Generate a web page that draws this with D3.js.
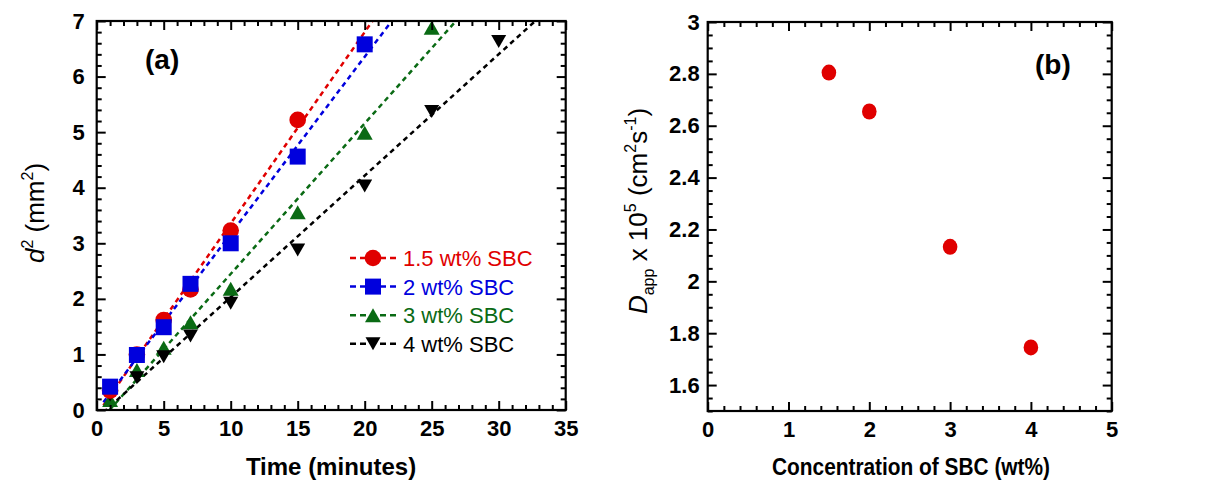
<!DOCTYPE html>
<html>
<head>
<meta charset="utf-8">
<script src="https://cdn.jsdelivr.net/npm/d3@7"></script>
<style>
    body { margin: 0; background: #fff; }
    svg text { font-family: Arial, "Liberation Sans", sans-serif; fill: #000; }
    .tick line { stroke: #000; stroke-width: 2; }
</style>
</head>
<body>
<div id="chart"></div>
<script>
/* DATA panel (a): d^2 vs time */
const timeMinutes = [1, 3, 5, 7, 10, 15, 20, 25, 30]
const sbc15 = [0.35, 1.00, 1.62, 2.17, 3.23, 5.22]
const sbc2 = [0.42, 0.99, 1.49, 2.27, 3.00, 4.56, 6.58]
const sbc3 = [0.18, 0.72, 1.12, 1.58, 2.18, 3.56, 4.99, 6.88]
const sbc4 = [0.27, 0.58, 0.96, 1.33, 1.92, 2.88, 4.03, 5.37, 6.63]
const seriesNames = ["1.5 wt% SBC", "2 wt% SBC", "3 wt% SBC", "4 wt% SBC"]

/* DATA panel (b): D_app vs concentration */
const concentration = [1.5, 2, 3, 4]
const dApp = [2.805, 2.655, 2.133, 1.745]

/* TICKS */
const xTicksA = [0, 5, 10, 15, 20, 25, 30, 35]
const yTicksA = [0, 1, 2, 3, 4, 5, 6, 7]
const xTicksB = [0, 1, 2, 3, 4, 5]
const yTicksB = [1.6, 1.8, 2, 2.2, 2.4, 2.6, 2.8, 3]

const series = [
    { name: seriesNames[0], values: sbc15, color: "#e00000", marker: "circle" },
    { name: seriesNames[1], values: sbc2, color: "#0000dd", marker: "square" },
    { name: seriesNames[2], values: sbc3, color: "#0a6a14", marker: "up" },
    { name: seriesNames[3], values: sbc4, color: "#000000", marker: "down" },
]
// overlap order seen in the picture: green, black, red, blue on top
const drawOrder = [2, 3, 0, 1]

const svg = d3.select("#chart")
    .append("svg")
    .attr("width", 1208)
    .attr("height", 484)

function addMarker(g, type, color) {
    if (type == "circle") {
        g.append("circle").attr("r", 8.3).attr("fill", color)
    } else if (type == "square") {
        g.append("rect").attr("x", -8).attr("y", -8).attr("width", 16).attr("height", 16).attr("fill", color)
    } else if (type == "up") {
        g.append("path").attr("d", "M0,-7L8,7L-8,7Z").attr("fill", color)
    } else {
        g.append("path").attr("d", "M0,6.5L7.5,-6.5L-7.5,-6.5Z").attr("fill", color)
    }
}

function linearFit(xs, ys) {
    const mx = d3.mean(xs), my = d3.mean(ys)
    const sxy = d3.sum(xs, (v, i) => (v - mx) * (ys[i] - my))
    const sxx = d3.sum(xs, v => (v - mx) * (v - mx))
    const slope = sxy / sxx
    return { slope, intercept: my - slope * mx }
}

function drawFrame(g, x, y, w, h, opts) {
    const fontStyle = sel => sel.selectAll("text")
        .attr("font-family", null)
        .style("font-size", "22px")
        .style("font-weight", "bold")
    const clean = sel => sel.attr("font-size", null).attr("font-family", null).select(".domain").remove()

    /* BOTTOM */
    g.append("g").attr("transform", `translate(0,${h})`)
        .call(d3.axisBottom(x).tickValues(opts.xMajor).tickSize(-9).tickPadding(10).tickFormat(d => d))
        .call(clean).call(fontStyle)
    g.append("g").attr("transform", `translate(0,${h})`)
        .call(d3.axisBottom(x).tickValues(opts.xMinor).tickSize(-5).tickFormat(""))
        .call(clean)
    /* TOP */
    g.append("g")
        .call(d3.axisTop(x).tickValues(opts.xMajor).tickSize(-9).tickFormat(""))
        .call(clean)
    g.append("g")
        .call(d3.axisTop(x).tickValues(opts.xMinor).tickSize(-5).tickFormat(""))
        .call(clean)
    /* LEFT */
    g.append("g")
        .call(d3.axisLeft(y).tickValues(opts.yMajor).tickSize(-9).tickPadding(opts.yPad).tickFormat(d => d))
        .call(clean).call(fontStyle)
    g.append("g")
        .call(d3.axisLeft(y).tickValues(opts.yMinor).tickSize(-5).tickFormat(""))
        .call(clean)
    /* RIGHT */
    g.append("g").attr("transform", `translate(${w},0)`)
        .call(d3.axisRight(y).tickValues(opts.yMajor).tickSize(-9).tickFormat(""))
        .call(clean)
    g.append("g").attr("transform", `translate(${w},0)`)
        .call(d3.axisRight(y).tickValues(opts.yMinor).tickSize(-5).tickFormat(""))
        .call(clean)

    g.append("rect")
        .attr("width", w).attr("height", h)
        .attr("fill", "none").attr("stroke", "#000").attr("stroke-width", 2.2)
}

/* ---------- PANEL (a) ---------- */
const A = { left: 96.7, top: 21, width: 469, height: 389 }
const ga = svg.append("g").attr("transform", `translate(${A.left},${A.top})`)
const xa = d3.scaleLinear().domain([0, 35]).range([0, A.width])
const ya = d3.scaleLinear().domain([0, 7]).range([A.height, 0])

svg.append("defs").append("clipPath").attr("id", "clip-a")
    .append("rect").attr("width", A.width).attr("height", A.height)

const plotA = ga.append("g").attr("clip-path", "url(#clip-a)")

// dashed fit lines
series.forEach(s => {
    const ts = timeMinutes.slice(0, s.values.length)
    const f = linearFit(ts, s.values)
    const tEnd = Math.min(35, (7.3 - f.intercept) / f.slope)
    const pts = [0.5, tEnd].map(t => [t, f.intercept + f.slope * t])
    plotA.append("path")
        .attr("d", d3.line(d => xa(d[0]), d => ya(d[1]))(pts))
        .attr("fill", "none")
        .attr("stroke", s.color)
        .attr("stroke-width", 2.5)
        .attr("stroke-dasharray", "5,4")
})

drawOrder.forEach(i => {
    const s = series[i]
    s.values.forEach((v, j) => {
        const m = plotA.append("g")
            .attr("transform", `translate(${xa(timeMinutes[j])},${ya(v)})`)
        addMarker(m, s.marker, s.color)
    })
})

drawFrame(ga, xa, ya, A.width, A.height, {
    xMajor: xTicksA,
    xMinor: d3.range(0, 36, 1).filter(v => v % 5 != 0),
    yMajor: yTicksA,
    yMinor: d3.range(0, 71, 2).filter(v => v % 10 != 0).map(v => v / 10),
    yPad: 12,
})

/* LEGEND */
const legend = ga.append("g").attr("transform", `translate(${350 - A.left},${258 - A.top})`)
series.forEach((s, i) => {
    const row = legend.append("g").attr("transform", `translate(0,${i * 28.6})`)
    row.append("line")
        .attr("x1", 0).attr("x2", 48).attr("y1", 0).attr("y2", 0)
        .attr("stroke", s.color).attr("stroke-width", 2.5).attr("stroke-dasharray", "6,4")
    addMarker(row.append("g").attr("transform", "translate(23,0)"), s.marker, s.color)
    row.append("text")
        .attr("x", 53).attr("y", 8)
        .style("font-size", "22px")
        .style("fill", s.color)
        .text(s.name)
})

ga.append("text")
    .attr("x", 145 - A.left).attr("y", 69 - A.top)
    .style("font-size", "28px").style("font-weight", "bold")
    .text("(a)")

/* AXIS TITLES (a) */
svg.append("text")
    .attr("x", 331).attr("y", 475)
    .attr("text-anchor", "middle")
    .style("font-size", "24px").style("font-weight", "bold")
    .text("Time (minutes)")

const yta = svg.append("text")
    .attr("transform", "translate(44,213) rotate(-90)")
    .attr("text-anchor", "middle")
    .style("font-size", "26px")
yta.append("tspan").style("font-style", "italic").text("d")
yta.append("tspan").attr("dy", -11).style("font-size", "16px").text("2")
yta.append("tspan").attr("dy", 11).text(" (mm")
yta.append("tspan").attr("dy", -11).style("font-size", "16px").text("2")
yta.append("tspan").attr("dy", 11).text(")")

/* ---------- PANEL (b) ---------- */
const B = { left: 707.7, top: 22, width: 404, height: 389 }
const gb = svg.append("g").attr("transform", `translate(${B.left},${B.top})`)
const xb = d3.scaleLinear().domain([0, 5]).range([0, B.width])
const yb = d3.scaleLinear().domain([1.5, 3]).range([B.height, 0])

gb.selectAll(".dot")
    .data(concentration)
    .enter()
    .append("ellipse")
    .attr("class", "dot")
    .attr("cx", d => xb(d))
    .attr("cy", (d, i) => yb(dApp[i]))
    .attr("rx", 7.3)
    .attr("ry", 8)
    .attr("fill", "#e00000")

drawFrame(gb, xb, yb, B.width, B.height, {
    xMajor: xTicksB,
    xMinor: d3.range(0, 26, 1).filter(v => v % 5 != 0).map(v => v / 5),
    yMajor: yTicksB,
    yMinor: d3.range(30, 61, 1).filter(v => v % 4 != 0).map(v => v / 20),
    yPad: 8,
})

gb.append("text")
    .attr("x", 1035 - B.left).attr("y", 74 - B.top)
    .style("font-size", "28px").style("font-weight", "bold")
    .text("(b)")

/* AXIS TITLES (b) */
svg.append("text")
    .attr("x", 911).attr("y", 475)
    .attr("text-anchor", "middle")
    .attr("textLength", 278)
    .attr("lengthAdjust", "spacingAndGlyphs")
    .style("font-size", "24px").style("font-weight", "bold")
    .text("Concentration of SBC (wt%)")

const ytb = svg.append("text")
    .attr("transform", "translate(647,211) rotate(-90)")
    .attr("text-anchor", "middle")
    .style("font-size", "26px")
ytb.append("tspan").style("font-style", "italic").text("D")
ytb.append("tspan").attr("dy", 7).style("font-size", "16px").text("app")
ytb.append("tspan").attr("dy", -7).text(" x 10")
ytb.append("tspan").attr("dy", -11).style("font-size", "16px").text("5")
ytb.append("tspan").attr("dy", 11).text(" (cm")
ytb.append("tspan").attr("dy", -11).style("font-size", "16px").text("2")
ytb.append("tspan").attr("dy", 11).text("s")
ytb.append("tspan").attr("dy", -11).style("font-size", "16px").text("-1")
ytb.append("tspan").attr("dy", 11).text(")")
</script>
</body>
</html>
